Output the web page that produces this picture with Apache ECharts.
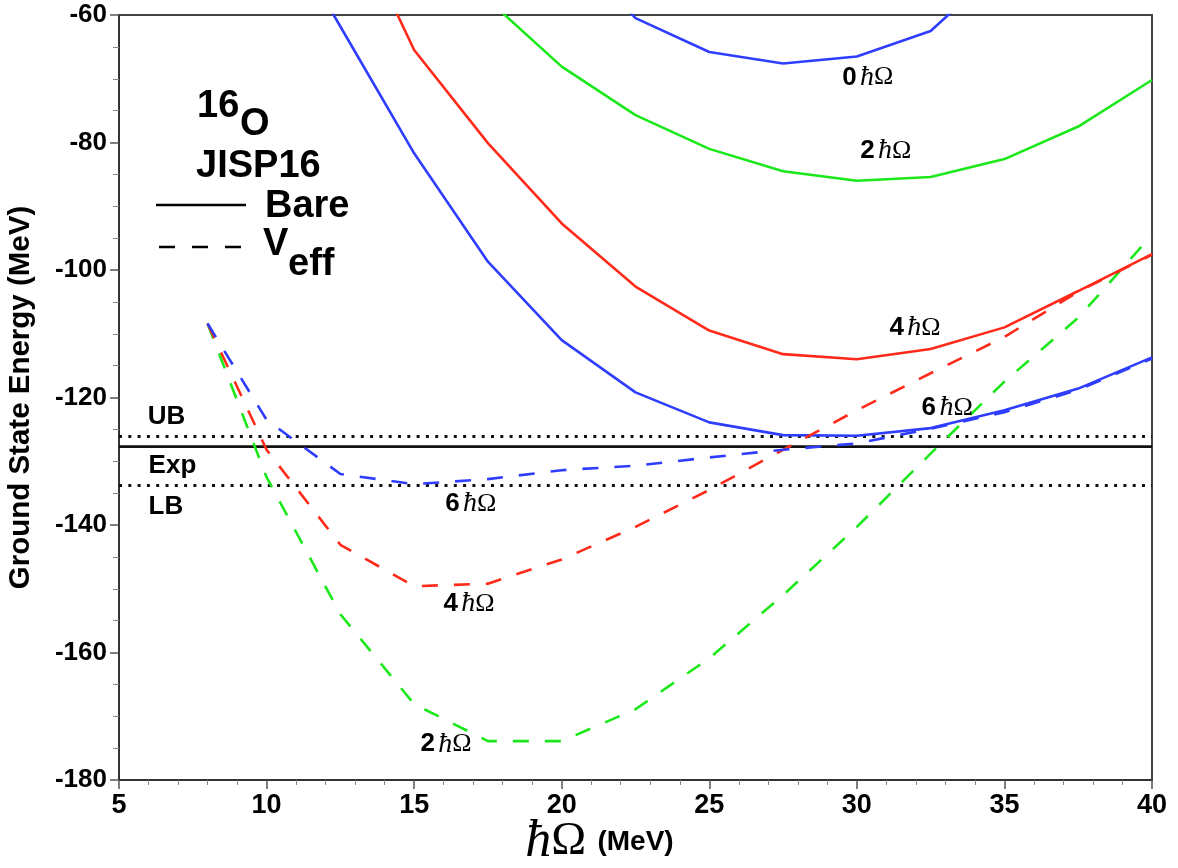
<!DOCTYPE html>
<html>
<head>
<meta charset="utf-8">
<script src="https://cdn.jsdelivr.net/npm/echarts@6/dist/echarts.min.js"></script>
<style>
html,body{margin:0;padding:0;background:#fff;}
#chart{width:1178px;height:868px;}
</style>
</head>
<body>
<div id="chart"></div>
<script>
// ---- Data (hbar-Omega in MeV, ground state energy in MeV) ----
const bare0X = [20, 22.5, 25, 27.5, 30, 32.5, 35];
const bare0Y = [-48, -60.5, -65.8, -67.6, -66.5, -62.5, -52];

const bare2X = [17.5, 20, 22.5, 25, 27.5, 30, 32.5, 35, 37.5, 40];
const bare2Y = [-57.6, -68.1, -75.7, -81.0, -84.5, -86.0, -85.4, -82.6, -77.5, -70.2];

const bare4X = [12.5, 15, 17.5, 20, 22.5, 25, 27.5, 30, 32.5, 35, 37.5, 40];
const bare4Y = [-41, -65.5, -80.1, -92.7, -102.6, -109.5, -113.2, -114.0, -112.4, -109.0, -103.3, -97.5];

const bare6X = [10, 12.5, 15, 17.5, 20, 22.5, 25, 27.5, 30, 32.5, 35, 37.5, 40];
const bare6Y = [-42, -61.8, -81.7, -98.7, -111.0, -119.2, -123.9, -125.9, -126.0, -124.8, -122.0, -118.6, -113.7];

const veffX = [8, 10, 12.5, 15, 17.5, 20, 22.5, 25, 27.5, 30, 32.5, 35, 37.5, 40];
const veff2Y = [-108.4, -132.5, -154.0, -168.1, -173.9, -173.9, -168.9, -160.9, -151.0, -140.3, -128.8, -117.5, -107.5, -94.5];
const veff4Y = [-108.4, -128.2, -143.1, -149.6, -149.2, -145.4, -140.3, -134.5, -128.2, -122.0, -116.2, -110.5, -103.4, -97.6];
const veff6Y = [-108.4, -123.5, -132.0, -133.6, -132.8, -131.4, -130.7, -129.4, -128.2, -127.2, -124.9, -122.3, -118.8, -113.9];

const refNames = ['UB', 'Exp', 'LB'];
const refLevels = [-126.1, -127.7, -133.8];

const xTicks = [5, 10, 15, 20, 25, 30, 35, 40];
const yTicks = [-180, -160, -140, -120, -100, -80, -60];

// curve annotations: [x, y, digit]
const curveLabels = [
  [30.37, -69.8, '0'],
  [30.98, -81.3, '2'],
  [31.97, -109.1, '4'],
  [33.06, -121.6, '6'],
  [16.92, -136.7, '6'],
  [16.86, -152.4, '4'],
  [16.08, -174.4, '2']
];
const refLabelPos = [[6.61, -123.1], [6.81, -130.7], [6.59, -137.1]];

// ---- Styles ----
const BLUE = '#2f3dff', RED = '#ff2a1a', GREEN = '#1be81b';
const SANS = 'Liberation Sans, Arial, Helvetica, sans-serif';
const SERIF = 'Liberation Serif, Times New Roman, serif';
const DASH = [16, 16];
const INK = '#000';

function pairs(xs, ys) { return xs.map((x, i) => [x, ys[i]]); }

function curve(name, xs, ys, color, dashed) {
  return {
    name: name, type: 'line', data: pairs(xs, ys), showSymbol: false, symbol: 'none',
    clip: true, silent: true, z: 3,
    lineStyle: { color: color, width: 2.6, type: dashed ? DASH : 'solid' }
  };
}

const xMin = xTicks[0], xMax = xTicks[xTicks.length - 1];

const refSeries = refLevels.map((v, i) => ({
  name: refNames[i], type: 'line', showSymbol: false, symbol: 'none', silent: true, z: 2,
  data: [[xMin, v], [xMax, v]],
  lineStyle: refNames[i] === 'Exp'
    ? { color: '#111', width: 2.6, type: 'solid' }
    : { color: '#111', width: 3, type: [3, 6.3] }
}));

const labelRich = {
  n: { fontFamily: SANS, fontWeight: 'bold', fontSize: 26, fill: INK },
  h: { fontFamily: SERIF, fontStyle: 'italic', fontSize: 28, fill: INK },
  o: { fontFamily: SERIF, fontSize: 26, fill: INK }
};

// text annotations placed through the axes' own coordinate conversion
function textSeries(items, makeText, extraStyle) {
  return {
    type: 'custom', silent: true, z: 6, clip: false,
    data: items.map(d => [d[0], d[1]]),
    renderItem: function (params, api) {
      const p = api.coord([api.value(0), api.value(1)]);
      return {
        type: 'text', x: p[0], y: p[1],
        style: Object.assign({
          text: makeText(params.dataIndex), align: 'center', verticalAlign: 'middle', fill: INK
        }, extraStyle)
      };
    }
  };
}

const curveLabelSeries = textSeries(curveLabels,
  i => '{n|' + curveLabels[i][2] + '} {h|ħ}{o|Ω}',
  { rich: labelRich });

const refLabelSeries = textSeries(refLabelPos,
  i => refNames[i],
  { font: 'bold 26px ' + SANS });

const chart = echarts.init(document.getElementById('chart'), null, { renderer: 'canvas' });

const option = {
  backgroundColor: '#fff',
  animation: false,
  grid: {
    left: 119, right: 26, top: 15, bottom: 88, outerBoundsMode: 'none', containLabel: false,
    show: true, borderColor: '#444', borderWidth: 2, backgroundColor: 'transparent'
  },
  xAxis: {
    type: 'value', min: xMin, max: xMax, interval: 5,
    axisLine: { show: true, onZero: false, lineStyle: { color: '#333', width: 2 } },
    axisTick: { show: true, inside: false, length: 9, lineStyle: { color: '#555', width: 1.5 } },
    minorTick: { show: true, splitNumber: 5, length: 5, lineStyle: { color: '#888', width: 1 } },
    splitLine: { show: false },
    axisLabel: { margin: 12, fontFamily: SANS, fontWeight: 'bold', fontSize: 27, color: INK },
    name: '{h|ħ}{o|Ω} {m| (MeV)}',
    nameLocation: 'middle', nameGap: 36, nameMoveOverlap: false,
    nameTextStyle: {
      padding: [0, 72, 0, 0],
      rich: {
        h: { fontFamily: SERIF, fontStyle: 'italic', fontSize: 52, color: INK },
        o: { fontFamily: SERIF, fontSize: 47, color: INK },
        m: { fontFamily: SANS, fontWeight: 'bold', fontSize: 28, color: INK }
      }
    }
  },
  yAxis: {
    type: 'value', min: yTicks[0], max: yTicks[yTicks.length - 1], interval: 20,
    axisLine: { show: true, onZero: false, lineStyle: { color: '#333', width: 2 } },
    axisTick: { show: true, inside: false, length: 9, lineStyle: { color: '#555', width: 1.5 } },
    minorTick: { show: true, splitNumber: 4, length: 6, lineStyle: { color: '#888', width: 1 } },
    splitLine: { show: false },
    axisLabel: { margin: 12, fontFamily: SANS, fontWeight: 'bold', fontSize: 26, color: INK },
    name: 'Ground State Energy (MeV)',
    nameLocation: 'middle', nameGap: 83, nameRotate: 90, nameMoveOverlap: false,
    nameTextStyle: { fontFamily: SANS, fontWeight: 'bold', fontSize: 29.5, color: INK }
  },
  series: [
    ...refSeries,
    curve('Bare 0', bare0X, bare0Y, BLUE, false),
    curve('Bare 2', bare2X, bare2Y, GREEN, false),
    curve('Bare 4', bare4X, bare4Y, RED, false),
    curve('Bare 6', bare6X, bare6Y, BLUE, false),
    curve('Veff 2', veffX, veff2Y, GREEN, true),
    curve('Veff 4', veffX, veff4Y, RED, true),
    curve('Veff 6', veffX, veff6Y, BLUE, true),
    curveLabelSeries,
    refLabelSeries
  ],
  graphic: [
    { type: 'text', left: 197, top: 88, style: { text: '16', font: 'bold 38px ' + SANS, fill: INK } },
    { type: 'text', left: 240, top: 106, style: { text: 'O', font: 'bold 38px ' + SANS, fill: INK } },
    { type: 'text', left: 196, top: 148, style: { text: 'JISP16', font: 'bold 38px ' + SANS, fill: INK } },
    { type: 'line', shape: { x1: 156, y1: 205, x2: 246, y2: 205 }, style: { stroke: INK, lineWidth: 2.6 } },
    { type: 'text', left: 265, top: 188, style: { text: 'Bare', font: 'bold 38px ' + SANS, fill: INK } },
    { type: 'line', shape: { x1: 159, y1: 247, x2: 243, y2: 247 }, style: { stroke: INK, lineWidth: 2.6, lineDash: [16, 17] } },
    { type: 'text', left: 263, top: 226, style: { text: 'V', font: 'bold 38px ' + SANS, fill: INK } },
    { type: 'text', left: 288, top: 246, style: { text: 'eff', font: 'bold 38px ' + SANS, fill: INK } }
  ]
};
chart.setOption(option);
</script>
</body>
</html>
